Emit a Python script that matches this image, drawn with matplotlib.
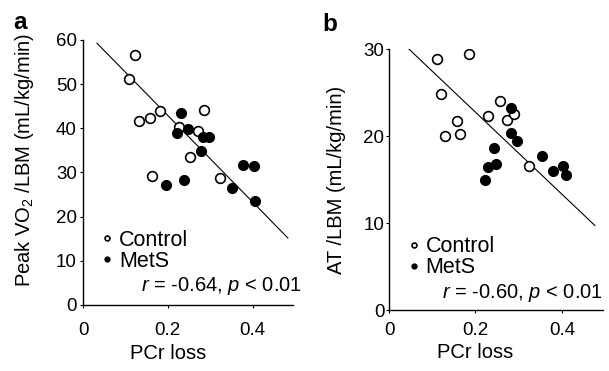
import numpy as np
import matplotlib
matplotlib.use("Agg")
import matplotlib.pyplot as plt

plt.rcParams['font.family'] = ['Liberation Sans', 'DejaVu Sans']
plt.rcParams['mathtext.fontset'] = 'custom'
plt.rcParams['mathtext.rm'] = 'Liberation Sans'
plt.rcParams['mathtext.it'] = 'Liberation Sans:italic'

# panel a: peak VO2/LBM vs PCr loss
a_ctrl_x = [0.122, 0.109, 0.181, 0.158, 0.131, 0.285, 0.227, 0.271, 0.253, 0.163, 0.322]
a_ctrl_y = [56.6, 51.1, 43.9, 42.3, 41.7, 44.1, 40.4, 39.5, 33.4, 29.2, 28.8]
a_mets_x = [0.230, 0.222, 0.248, 0.283, 0.296, 0.279, 0.377, 0.402, 0.351, 0.406, 0.238, 0.195]
a_mets_y = [43.4, 38.9, 39.8, 38.0, 38.0, 34.9, 31.8, 31.5, 26.5, 23.6, 28.3, 27.1]
a_fit = (62.5, -98.0)       # intercept, slope
a_fit_range = (0.033, 0.483)
a_stat = r'$\it{r}$ = -0.64, $\it{p}$ < 0.01'

# panel b: AT/LBM vs PCr loss
b_ctrl_x = [0.111, 0.184, 0.121, 0.157, 0.165, 0.129, 0.256, 0.228, 0.273, 0.288, 0.323]
b_ctrl_y = [28.9, 29.5, 24.8, 21.7, 20.3, 20.0, 24.0, 22.3, 21.9, 22.6, 16.6]
b_mets_x = [0.283, 0.283, 0.296, 0.242, 0.248, 0.229, 0.222, 0.353, 0.379, 0.403, 0.409]
b_mets_y = [23.2, 20.4, 19.5, 18.7, 16.8, 16.4, 15.0, 17.7, 16.0, 16.6, 15.5]
b_fit = (32.2, -47.2)
b_fit_range = (0.042, 0.476)
b_stat = r'$\it{r}$ = -0.60, $\it{p}$ < 0.01'

fig = plt.figure(figsize=(6.09, 3.71), dpi=100)
ax_a = fig.add_axes([0.1363, 0.1779, 0.3448, 0.7143])
ax_b = fig.add_axes([0.6388, 0.1644, 0.3514, 0.7027])


def draw(ax, cx, cy, mx, my, fit, frange, stat, ylim, yticks, ylabel,
         xpad, ypad, ylab_x, ylab_y, xlab_y, leg_xy, stat_xy):
    ax.plot(cx, cy, 'o', ms=7, mfc='white', mec='black', mew=1.2,
            label='Control', zorder=3)
    ax.plot(mx, my, 'o', ms=7, mfc='black', mec='black', mew=1.0,
            label='MetS', zorder=3)
    xs = np.array(frange)
    ax.plot(xs, fit[0] + fit[1] * xs, color='black', lw=0.8, zorder=2)

    ax.set_xlim(0, 0.495)
    ax.set_ylim(*ylim)
    ax.set_xticks([0, 0.2, 0.4])
    ax.set_xticklabels(['0', '0.2', '0.4'])
    ax.set_yticks(yticks)
    for s in ['top', 'right']:
        ax.spines[s].set_visible(False)
    for s in ['left', 'bottom']:
        ax.spines[s].set_linewidth(1.0)
    ax.tick_params(axis='x', direction='out', length=2.5, width=0.8,
                   labelsize=13.5, pad=xpad)
    ax.tick_params(axis='y', direction='out', length=2.5, width=0.8,
                   labelsize=13.5, pad=ypad)

    ax.set_xlabel('PCr loss', fontsize=14.5)
    ax.xaxis.set_label_coords(0.2 / 0.495, xlab_y)
    ax.xaxis.label.set_va('top')
    ax.set_ylabel(ylabel, fontsize=14.5)
    ax.yaxis.set_label_coords(ylab_x, ylab_y)

    ax.legend(loc='center left', bbox_to_anchor=leg_xy, frameon=False,
              fontsize=15.5, markerscale=0.5, handlelength=0.5,
              handletextpad=0.3, labelspacing=0.0, borderpad=0,
              borderaxespad=0)
    ax.text(stat_xy[0], stat_xy[1], stat, transform=ax.transAxes,
            ha='right', va='center', fontsize=14.5)


draw(ax_a, a_ctrl_x, a_ctrl_y, a_mets_x, a_mets_y, a_fit, a_fit_range, a_stat,
     (0, 60), [0, 10, 20, 30, 40, 50, 60],
     'Peak VO$_\\mathregular{2}$ /LBM (mL/kg/min)',
     10, 2, -0.224, 0.547, -0.147, (0.09, 0.204), (1.043, 0.07))
draw(ax_b, b_ctrl_x, b_ctrl_y, b_mets_x, b_mets_y, b_fit, b_fit_range, b_stat,
     (0, 30), [0, 10, 20, 30],
     'AT /LBM (mL/kg/min)',
     6.3, 0.8, -0.2, 0.5, -0.127, (0.09, 0.203), (1.0, 0.065))

fig.text(0.0328, 0.9407, 'a', fontsize=17.5, fontweight='bold', ha='center', va='center')
fig.text(0.5419, 0.9353, 'b', fontsize=17.5, fontweight='bold', ha='center', va='center')

fig.savefig('out.png', dpi=100)
